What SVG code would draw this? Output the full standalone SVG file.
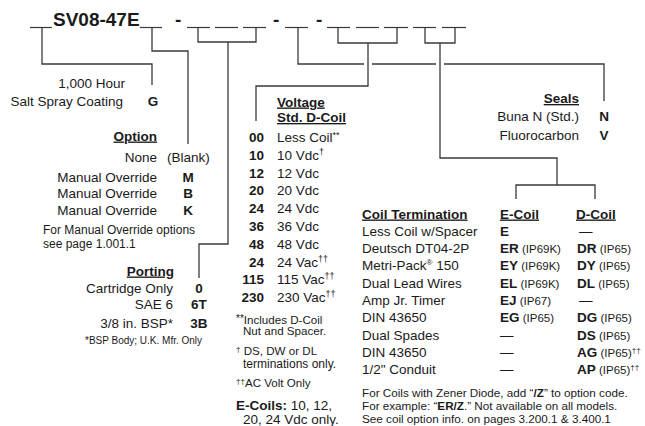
<svg xmlns="http://www.w3.org/2000/svg" width="645" height="426" viewBox="0 0 645 426">
<style>
text{font-family:"Liberation Sans",Arial,Helvetica,sans-serif;font-size:13.5px;fill:#1a1a1a}
.b{font-weight:bold}
.h{font-weight:bold;text-decoration:underline}
.r{text-anchor:end}
.m{text-anchor:middle}
.s{font-size:12px}
.n{font-size:11.6px}
.f{font-size:11.7px}
.xs{font-size:10px}
.p{font-size:11.5px}
.top{font-size:19px;font-weight:bold}
.c{stroke:#3a3a3a;stroke-width:1.3;fill:none}
.u{stroke:#3a3a3a;stroke-width:1.2}
</style>
<rect width="645" height="426" fill="#ffffff"/>
<g id="model-code">
<line class="u" x1="30" y1="27.5" x2="52" y2="27.5"/>
<text class="top" x="53" y="26">SV08-47E</text>
<line class="u" x1="140" y1="27.5" x2="162" y2="27.5"/>
<text class="top" x="175" y="26">-</text>
<line class="u" x1="187" y1="27.5" x2="210" y2="27.5"/>
<line class="u" x1="215" y1="27.5" x2="238" y2="27.5"/>
<line class="u" x1="243" y1="27.5" x2="266" y2="27.5"/>
<text class="top" x="273" y="26">-</text>
<line class="u" x1="285" y1="27.5" x2="308" y2="27.5"/>
<text class="top" x="316" y="26">-</text>
<line class="u" x1="327" y1="27.5" x2="350" y2="27.5"/>
<line class="u" x1="356" y1="27.5" x2="379" y2="27.5"/>
<line class="u" x1="384" y1="27.5" x2="408" y2="27.5"/>
<line class="u" x1="413" y1="27.5" x2="436" y2="27.5"/>
<line class="u" x1="442" y1="27.5" x2="466" y2="27.5"/>
</g>
<g id="connectors">
<path class="c" d="M42,28 V64 H152 V85"/>
<path class="c" d="M152,28 V51 H188 V144"/>
<path class="c" d="M198,28 V42 H256 V28 M228,42 V244 H199 V278"/>
<path class="c" d="M298,28 V64 H364 M372,64 H436 M444,64 H604 V101"/>
<path class="c" d="M338,28 V43 H397 V28 M368,43 V86 H256 V121"/>
<path class="c" d="M425,28 V43 H455 V28 M440,43 V158 H557 V185 M516,199 V185 H595 V199"/>
</g>
<g id="coating">
<text class="r" x="125" y="88">1,000 Hour</text>
<text class="r" x="123" y="106">Salt Spray Coating</text>
<text class="b m" x="153" y="106">G</text>
</g>
<g id="option">
<text class="h r" x="157" y="140.5">Option</text>
<text class="r" x="157" y="161.5">None</text>
<text x="167" y="161.5">(Blank)</text>
<text class="r" x="157" y="181.5">Manual Override</text>
<text class="b m" x="188" y="181.5">M</text>
<text class="r" x="157" y="198">Manual Override</text>
<text class="b m" x="188" y="198">B</text>
<text class="r" x="157" y="214.5">Manual Override</text>
<text class="b m" x="188" y="214.5">K</text>
<text class="s" x="43" y="234">For Manual Override options</text>
<text class="s" x="43" y="248">see page 1.001.1</text>
</g>
<g id="porting">
<text class="h r" x="174" y="275.5">Porting</text>
<text class="r" x="173" y="292.5">Cartridge Only</text>
<text class="b m" x="199" y="292.5">0</text>
<text class="r" x="173" y="309">SAE 6</text>
<text class="b m" x="199" y="309">6T</text>
<text class="r" x="173" y="328">3/8 in. BSP*</text>
<text class="b m" x="199" y="328">3B</text>
<text class="xs" x="85" y="343.5">*BSP Body; U.K. Mfr. Only</text>
</g>
<g id="voltage">
<text class="h" x="277" y="106.5">Voltage</text>
<text class="h" x="277" y="122">Std. D-Coil</text>
<text class="b r" x="264" y="142">00</text>
<text x="277" y="142">Less Coil<tspan font-size="9" dy="-4">**</tspan></text>
<text class="b r" x="264" y="159.8">10</text>
<text x="277" y="159.8">10 Vdc<tspan font-size="9" dy="-5">†</tspan></text>
<text class="b r" x="264" y="177.6">12</text>
<text x="277" y="177.6">12 Vdc</text>
<text class="b r" x="264" y="195.4">20</text>
<text x="277" y="195.4">20 Vdc</text>
<text class="b r" x="264" y="213.2">24</text>
<text x="277" y="213.2">24 Vdc</text>
<text class="b r" x="264" y="231">36</text>
<text x="277" y="231">36 Vdc</text>
<text class="b r" x="264" y="248.8">48</text>
<text x="277" y="248.8">48 Vdc</text>
<text class="b r" x="264" y="266.6">24</text>
<text x="277" y="266.6">24 Vac<tspan font-size="9" dy="-5">††</tspan></text>
<text class="b r" x="264" y="284.4">115</text>
<text x="277" y="284.4">115 Vac<tspan font-size="9" dy="-5">††</tspan></text>
<text class="b r" x="264" y="302.2">230</text>
<text x="277" y="302.2">230 Vac<tspan font-size="9" dy="-5">††</tspan></text>
<text class="n" x="236" y="323.5"><tspan font-size="10" dy="-2">**</tspan><tspan dy="2">Includes D-Coil</tspan></text>
<text class="n" x="243" y="335">Nut and Spacer.</text>
<text class="n" x="236" y="355"><tspan font-size="8" dy="-3">†</tspan><tspan dy="3"> DS, DW or DL</tspan></text>
<text class="s" x="243" y="368">terminations only.</text>
<text class="n" x="236" y="387"><tspan font-size="8" dy="-3">††</tspan><tspan dy="3">AC Volt Only</tspan></text>
<text x="236" y="410"><tspan class="b">E-Coils:</tspan> 10, 12,</text>
<text x="243" y="423.5">20, 24 Vdc only.</text>
</g>
<g id="seals">
<text class="h r" x="579" y="103">Seals</text>
<text class="r" x="579" y="121">Buna N (Std.)</text>
<text class="b m" x="604" y="121">N</text>
<text class="r" x="579" y="139.5">Fluorocarbon</text>
<text class="b m" x="604" y="139.5">V</text>
</g>
<g id="coil-termination">
<text class="h" x="362" y="218.5">Coil Termination</text>
<text class="h" x="500" y="218.5">E-Coil</text>
<text class="h" x="576" y="218.5">D-Coil</text>
<text x="362" y="235.8">Less Coil w/Spacer</text>
<text class="b" x="500" y="235.8">E</text>
<text x="579" y="235.8" font-size="11">—</text>
<text x="362" y="253.1">Deutsch DT04-2P</text>
<text x="500" y="253.1"><tspan class="b">ER</tspan><tspan class="p"> (IP69K)</tspan></text>
<text x="577" y="253.1"><tspan class="b">DR</tspan><tspan class="p"> (IP65)</tspan></text>
<text x="362" y="270.4">Metri-Pack<tspan font-size="8" dy="-5">®</tspan><tspan dy="5"> 150</tspan></text>
<text x="500" y="270.4"><tspan class="b">EY</tspan><tspan class="p"> (IP69K)</tspan></text>
<text x="577" y="270.4"><tspan class="b">DY</tspan><tspan class="p"> (IP65)</tspan></text>
<text x="362" y="287.7">Dual Lead Wires</text>
<text x="500" y="287.7"><tspan class="b">EL</tspan><tspan class="p"> (IP69K)</tspan></text>
<text x="577" y="287.7"><tspan class="b">DL</tspan><tspan class="p"> (IP65)</tspan></text>
<text x="362" y="305">Amp Jr. Timer</text>
<text x="500" y="305"><tspan class="b">EJ</tspan><tspan class="p"> (IP67)</tspan></text>
<text x="579" y="305" font-size="11">—</text>
<text x="362" y="322.3">DIN 43650</text>
<text x="500" y="322.3"><tspan class="b">EG</tspan><tspan class="p"> (IP65)</tspan></text>
<text x="577" y="322.3"><tspan class="b">DG</tspan><tspan class="p"> (IP65)</tspan></text>
<text x="362" y="339.6">Dual Spades</text>
<text x="500" y="339.6" font-size="11">—</text>
<text x="577" y="339.6"><tspan class="b">DS</tspan><tspan class="p"> (IP65)</tspan></text>
<text x="362" y="356.9">DIN 43650</text>
<text x="500" y="356.9" font-size="11">—</text>
<text x="577" y="356.9"><tspan class="b">AG</tspan><tspan class="p"> (IP65)</tspan><tspan font-size="8" dy="-4">††</tspan></text>
<text x="362" y="374.2">1/2" Conduit</text>
<text x="500" y="374.2" font-size="11">—</text>
<text x="577" y="374.2"><tspan class="b">AP</tspan><tspan class="p"> (IP65)</tspan><tspan font-size="8" dy="-4">††</tspan></text>
<text class="f" x="362" y="396.5">For Coils with Zener Diode, add “<tspan class="b">/Z</tspan>” to option code.</text>
<text class="f" x="362" y="410">For example: “<tspan class="b">ER/Z</tspan>.” Not available on all models.</text>
<text class="f" x="362" y="423">See coil option info. on pages 3.200.1 &amp; 3.400.1</text>
</g>
</svg>
